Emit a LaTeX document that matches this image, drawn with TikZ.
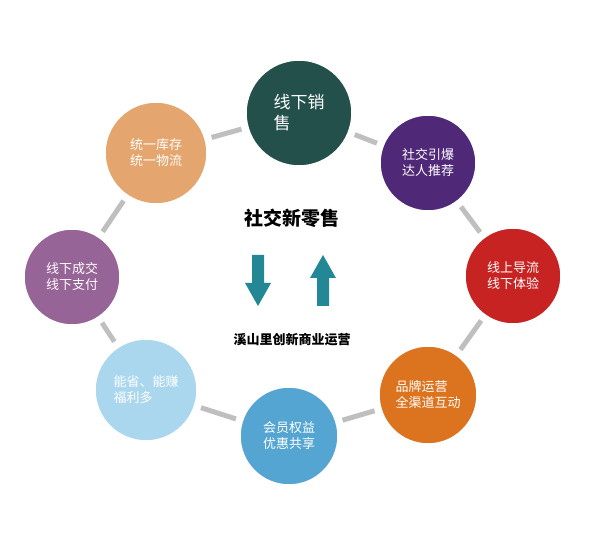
\documentclass[tikz,border=0pt]{standalone}
\usepackage{fontspec}
\newfontfamily\cjk{Noto Sans CJK SC}
\begin{document}
\begin{tikzpicture}[x=1pt,y=-1pt,
  bub/.style={circle,draw=white,line width=1.5pt,text=white,font=\cjk\fontsize{13}{16}\selectfont,align=left,inner sep=0pt},
  link/.style={line width=5pt,draw=black!25,shorten >=6pt,shorten <=6pt},
  blk/.style={fill={rgb,255:red,35;green,135;blue,150},draw=none}]
\useasboundingbox (0,0) rectangle (600,534);
\node[bub,fill={rgb,255:red,35;green,80;blue,75},minimum size=106pt,font=\cjk\fontsize{17}{21}\selectfont] (a) at (299,113) {线下销\\售};
\node[bub,fill={rgb,255:red,80;green,40;blue,120},minimum size=96pt] (b) at (428,163) {社交引爆\\达人推荐};
\node[bub,fill={rgb,255:red,200;green,35;blue,35},minimum size=96pt] (c) at (513,276) {线上导流\\线下体验};
\node[bub,fill={rgb,255:red,220;green,115;blue,30},minimum size=98pt] (d) at (428,395) {品牌运营\\全渠道互动};
\node[bub,fill={rgb,255:red,85;green,165;blue,210},minimum size=98pt] (e) at (289,436) {会员权益\\优惠共享};
\node[bub,fill={rgb,255:red,170;green,215;blue,238},minimum size=102pt] (f) at (146,390) {能省、能赚\\福利多};
\node[bub,fill={rgb,255:red,150;green,100;blue,150},minimum size=96pt] (g) at (72,277) {线下成交\\线下支付};
\node[bub,fill={rgb,255:red,228;green,165;blue,110},minimum size=102pt] (h) at (156,153) {统一库存\\统一物流};
\foreach \p/\q in {a/b,b/c,c/d,d/e,e/f,f/g,g/h,h/a}
  \draw[link] (\p) -- (\q);
\node[font=\cjk\bfseries\fontsize{19}{22}\selectfont] (t) at (292,218) {社交新零售};
\fill[blk] (252,255) -- (264,255) -- (264,283) -- (271,283) -- (258,306) -- (245,283) -- (252,283) -- cycle;
\fill[blk] (317,306) -- (329,306) -- (329,278) -- (336,278) -- (323,255) -- (310,278) -- (317,278) -- cycle;
\node[font=\cjk\bfseries\fontsize{13}{16}\selectfont] (s) at (292,340) {溪山里创新商业运营};
\end{tikzpicture}
\end{document}
